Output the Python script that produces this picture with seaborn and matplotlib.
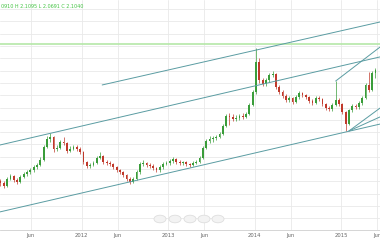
import numpy as np
import pandas as pd
import matplotlib
matplotlib.use("Agg")
import matplotlib.pyplot as plt
import matplotlib.dates as mdates
import seaborn as sns

# ---------------- data ----------------
dates = pd.date_range("2011-01-24", periods=114, freq="14D")
first_open = 1.652
closes = [1.644, 1.631, 1.660, 1.672, 1.656, 1.648, 1.668, 1.680, 1.688, 1.696,
          1.709, 1.717, 1.737, 1.790, 1.822, 1.831, 1.782, 1.786, 1.810, 1.806,
          1.774, 1.782, 1.790, 1.782, 1.770, 1.729, 1.713, 1.717, 1.725, 1.745,
          1.753, 1.729, 1.725, 1.721, 1.709, 1.696, 1.688, 1.676, 1.660, 1.648,
          1.660, 1.688, 1.721, 1.725, 1.717, 1.713, 1.705, 1.696, 1.709, 1.721,
          1.725, 1.733, 1.741, 1.729, 1.725, 1.729, 1.721, 1.717, 1.725, 1.729,
          1.745, 1.786, 1.814, 1.822, 1.826, 1.831, 1.843, 1.875, 1.916, 1.912,
          1.904, 1.908, 1.914, 1.912, 1.924, 1.961, 2.013, 2.135, 2.062, 2.046,
          2.062, 2.083, 2.087, 2.034, 2.013, 1.997, 1.981, 1.989, 1.973, 1.993,
          2.009, 2.001, 1.993, 1.977, 1.969, 1.989, 1.985, 1.965, 1.948, 1.944,
          1.961, 1.981, 1.965, 1.932, 1.883, 1.940, 1.957, 1.953, 1.969, 1.989,
          2.042, 2.022, 2.091, 2.104]
highs = [1.660, 1.650, 1.668, 1.680, 1.676, 1.662, 1.674, 1.688, 1.696, 1.704,
         1.716, 1.724, 1.748, 1.798, 1.834, 1.848, 1.836, 1.798, 1.818, 1.830,
         1.810, 1.792, 1.798, 1.796, 1.788, 1.774, 1.734, 1.724, 1.734, 1.752,
         1.768, 1.758, 1.736, 1.732, 1.726, 1.714, 1.702, 1.694, 1.682, 1.666,
         1.668, 1.696, 1.730, 1.736, 1.730, 1.726, 1.720, 1.710, 1.716, 1.728,
         1.734, 1.742, 1.748, 1.746, 1.736, 1.734, 1.734, 1.726, 1.732, 1.736,
         1.752, 1.792, 1.822, 1.834, 1.836, 1.840, 1.850, 1.882, 1.924, 1.928,
         1.922, 1.920, 1.924, 1.926, 1.932, 1.968, 2.020, 2.192, 2.150, 2.072,
         2.070, 2.092, 2.100, 2.092, 2.042, 2.020, 2.004, 1.998, 1.994, 2.000,
         2.016, 2.014, 2.006, 1.998, 1.984, 1.996, 1.998, 1.990, 1.970, 1.956,
         1.968, 2.058, 1.988, 1.970, 1.938, 1.946, 1.964, 1.966, 1.976, 1.996,
         2.050, 2.095, 2.098, 2.1095]
lows = [1.632, 1.622, 1.626, 1.654, 1.648, 1.640, 1.644, 1.662, 1.672, 1.682,
        1.690, 1.700, 1.712, 1.732, 1.784, 1.812, 1.770, 1.772, 1.780, 1.798,
        1.766, 1.768, 1.776, 1.774, 1.762, 1.720, 1.704, 1.704, 1.712, 1.720,
        1.742, 1.722, 1.716, 1.712, 1.702, 1.688, 1.680, 1.668, 1.652, 1.640,
        1.642, 1.654, 1.682, 1.714, 1.708, 1.706, 1.698, 1.688, 1.690, 1.702,
        1.716, 1.718, 1.726, 1.722, 1.716, 1.718, 1.714, 1.710, 1.712, 1.720,
        1.724, 1.740, 1.780, 1.806, 1.812, 1.818, 1.826, 1.838, 1.870, 1.878,
        1.894, 1.896, 1.900, 1.902, 1.906, 1.918, 1.956, 2.006, 2.050, 2.036,
        2.038, 2.056, 2.074, 2.026, 2.004, 1.990, 1.972, 1.974, 1.964, 1.968,
        1.986, 1.994, 1.986, 1.970, 1.960, 1.964, 1.978, 1.958, 1.940, 1.936,
        1.938, 1.956, 1.958, 1.924, 1.855, 1.878, 1.934, 1.944, 1.946, 1.962,
        1.984, 2.014, 2.016, 2.0691]

# trend / channel lines (start date, end date, start price, end price)
trend_names = ["upper", "channel_top", "channel_bottom", "steep", "fan_steep", "fan_flat"]
trend_start = ["2012-03-28", "2011-01-22", "2011-01-22", "2014-12-08", "2015-02-02", "2015-02-02"]
trend_end = ["2015-06-13", "2015-06-13", "2015-06-13", "2015-06-13", "2015-06-13", "2015-06-13"]
trend_p0 = [2.042, 1.798, 1.526, 2.058, 1.855, 1.855]
trend_p1 = [2.298, 2.156, 1.883, 2.196, 1.948, 1.912]

level_price = 2.2085
header = "0910 H 2.1095 L 2.0691 C 2.1040"

tick_dates = ["2011-06-01", "2012-01-01", "2012-06-01", "2013-01-01",
              "2013-06-01", "2014-01-01", "2014-06-01", "2015-01-01", "2015-06-01"]
tick_labels = ["Jun", "2012", "Jun", "2013", "Jun", "2014", "Jun", "2015", "Jun"]

# ---------------- plot ----------------
sns.set_theme(style="white")
plt.rcParams["font.family"] = ["DejaVu Sans"]

fig = plt.figure(figsize=(3.8, 2.4), dpi=100)
ax = fig.add_axes([0, 10 / 240, 1, 230 / 240])

df = pd.DataFrame({"date": dates, "close": closes, "high": highs, "low": lows})
df["open"] = [first_open] + closes[:-1]
df["up"] = df["close"] >= df["open"]
xnum = mdates.date2num(df["date"])

green = "#3a9d3a"
red = "#c0392b"
colors = np.where(df["up"], green, red)

# grid
for p in np.arange(1.45, 2.40, 0.05):
    ax.axhline(p, color="#e9e9e9", lw=0.6, zorder=0)
for d in tick_dates:
    ax.axvline(mdates.datestr2num(d), color="#e9e9e9", lw=0.6, zorder=0)

ax.axhline(level_price, color="#b5e8a8", lw=1.2, zorder=1)

ax.vlines(xnum, df["low"], df["high"], colors=colors, lw=0.5, zorder=2)
bottoms = np.minimum(df["open"], df["close"])
heights = np.maximum(np.abs(df["close"] - df["open"]), 0.0015)
ax.bar(xnum, heights, bottom=bottoms, width=7.5, color=colors, lw=0, zorder=3)

for i in range(len(trend_names)):
    seg = pd.DataFrame({"x": [mdates.datestr2num(trend_start[i]), mdates.datestr2num(trend_end[i])],
                        "y": [trend_p0[i], trend_p1[i]]})
    sns.lineplot(data=seg, x="x", y="y", ax=ax, color="#5a9ca2", lw=0.7, zorder=4)

x0 = mdates.datestr2num("2011-01-22")
x1 = mdates.datestr2num("2015-06-13")
ax.set_xlim(x0, x1)
ax.set_ylim(1.4524, 2.3874)
ax.set_xlabel("")
ax.set_ylabel("")
ax.set_yticks([])
ax.set_xticks([mdates.datestr2num(d) for d in tick_dates])
ax.set_xticklabels(tick_labels, fontsize=3.8, color="#666666")
ax.tick_params(axis="x", length=0, pad=2)
for s in ["top", "left", "right"]:
    ax.spines[s].set_visible(False)
ax.spines["bottom"].set_color("#cfcfcf")
ax.spines["bottom"].set_linewidth(0.6)

# header
fig.text(1 / 380, 1 - 7 / 240, header, fontsize=3.5, color="#44c444",
         ha="left", va="center")

# faint zoom buttons
btn_x = [160, 175, 190, 204, 218]
btn_sym = ["<", "−", "◎", "+", ">"]
for bx, sym in zip(btn_x, btn_sym):
    c = plt.Circle((bx / 380, 1 - 219 / 240), 6 / 380, transform=fig.transFigure,
                   facecolor="#f3f3f3", edgecolor="#dedede", lw=0.6, zorder=5)
    fig.patches.append(c)
    fig.text(bx / 380, 1 - 219 / 240, sym, fontsize=3.5, color="#cdcdcd",
             ha="center", va="center")

fig.savefig("out.png", dpi=100)
